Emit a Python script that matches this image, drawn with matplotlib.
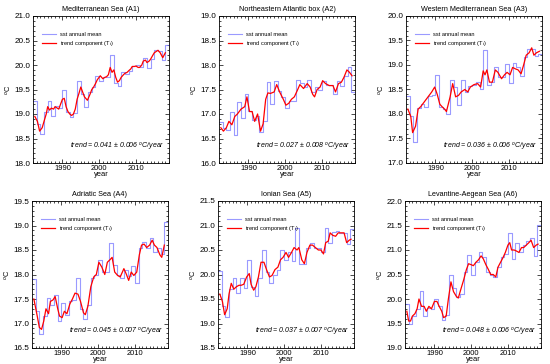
import matplotlib
matplotlib.use("Agg")
import matplotlib.pyplot as plt
from matplotlib.ticker import MultipleLocator

plt.rcParams['font.family'] = ['Liberation Sans', 'DejaVu Sans']
plt.rcParams['mathtext.fontset'] = 'custom'
plt.rcParams['mathtext.rm'] = 'Liberation Sans'
plt.rcParams['mathtext.it'] = 'Liberation Sans:italic'

# annual means, 1982..2018
years = list(range(1982, 2019))

sst_a1 = [19.27, 18.8, 18.6, 19.05, 19.27, 18.95, 19.17, 19.13, 19.5, 19.05,
          18.93, 19.02, 19.68, 19.4, 19.15, 19.45, 19.55, 19.77, 19.67, 19.75,
          19.75, 20.2, 19.63, 19.58, 19.85, 19.82, 19.88, 19.97, 20.0, 19.95,
          20.15, 19.93, 20.12, 20.3, 20.28, 20.1, 20.4]
sst_a2 = [16.83, 16.71, 16.68, 17.05, 16.57, 17.24, 16.91, 17.4, 17.07, 16.87,
          16.95, 16.64, 16.85, 17.65, 17.2, 17.67, 17.47, 17.35, 17.12, 17.27,
          17.27, 17.7, 17.63, 17.55, 17.7, 17.45, 17.55, 17.5, 17.68, 17.6,
          17.6, 17.4, 17.67, 17.57, 17.78, 17.95, 17.45]
sst_a3 = [18.37, 17.95, 17.42, 18.12, 18.2, 18.15, 18.37, 18.38, 18.8, 18.15,
          18.1, 18.0, 18.7, 18.55, 18.18, 18.7, 18.45, 18.57, 18.6, 18.65,
          18.5, 19.3, 18.6, 18.65, 18.95, 18.75, 18.75, 19.02, 18.63, 19.05,
          18.95, 18.78, 19.17, 19.32, 19.32, 19.18, 19.22]
sst_a4 = [17.9, 17.25, 16.78, 17.15, 17.52, 17.38, 17.58, 17.05, 17.42, 17.18,
          17.45, 17.48, 17.92, 17.3, 17.1, 17.38, 17.92, 18.0, 18.3, 18.05,
          18.05, 18.65, 18.2, 17.98, 17.93, 18.1, 17.97, 18.18, 17.82, 18.55,
          18.67, 18.55, 18.75, 18.45, 18.55, 18.42, 19.08]
sst_a5 = [20.07, 19.35, 19.13, 19.7, 19.93, 19.62, 19.92, 19.72, 20.3, 19.75,
          19.57, 19.93, 20.5, 20.05, 19.82, 20.0, 20.1, 20.5, 20.3, 20.45,
          20.27, 20.95, 20.22, 20.22, 20.55, 20.65, 20.55, 20.55, 20.45, 20.95,
          20.65, 20.87, 20.88, 20.85, 20.85, 20.62, 20.93]
sst_a6 = [19.9, 19.5, 19.65, 19.8, 20.17, 19.65, 19.82, 19.8, 20.0, 19.85,
          19.57, 19.67, 20.48, 20.22, 20.05, 20.1, 20.55, 20.9, 20.5, 20.75,
          20.95, 20.85, 20.55, 20.5, 20.45, 20.65, 20.85, 20.92, 21.35, 20.82,
          21.15, 20.95, 21.1, 21.18, 21.25, 20.88, 21.52]

# trend component
tt_a1 = [1982.5, 1983.2, 1983.8, 1984.5, 1985.0, 1985.6, 1986.0, 1986.5, 1987.0, 1987.6,
         1988.0, 1988.6, 1989.0, 1989.6, 1990.0, 1990.5, 1991.0, 1991.5, 1992.0, 1992.5,
         1993.0, 1993.5, 1994.0, 1994.5, 1995.0, 1995.5, 1996.0, 1996.8, 1997.5, 1998.0,
         1998.5, 1999.0, 1999.5, 2000.3, 2001.0, 2001.6, 2002.0, 2002.5, 2003.0, 2003.5,
         2004.0, 2004.5, 2005.0, 2005.5, 2006.0, 2006.6, 2007.0, 2007.6, 2008.0, 2008.6,
         2009.0, 2009.6, 2010.0, 2010.6, 2011.0, 2011.6, 2012.0, 2012.6, 2013.0, 2013.6,
         2014.0, 2014.6, 2015.0, 2015.6, 2016.0, 2016.6, 2017.3, 2018.0]
tv_a1 = [18.95, 18.85, 18.65, 18.72, 18.85, 19.0, 19.15, 19.08, 19.12, 19.1,
         19.15, 19.12, 19.1, 19.22, 19.3, 19.32, 19.15, 19.05, 19.0, 18.97,
         19.0, 19.1, 19.3, 19.42, 19.55, 19.45, 19.35, 19.28, 19.4, 19.5,
         19.55, 19.62, 19.7, 19.78, 19.72, 19.75, 19.76, 19.8, 19.95, 19.85,
         19.9, 19.75, 19.65, 19.68, 19.75, 19.8, 19.83, 19.85, 19.88, 19.92,
         19.97, 19.97, 19.98, 19.95, 19.95, 20.0, 20.08, 20.1, 20.05, 20.08,
         20.12, 20.2, 20.25, 20.28, 20.3, 20.25, 20.15, 20.25]

tt_a2 = [1982.5, 1983.2, 1984.0, 1984.7, 1985.5, 1986.3, 1987.0, 1988.0, 1989.0, 1989.6,
         1990.3, 1991.0, 1991.7, 1992.5, 1993.3, 1994.0, 1994.7, 1995.3, 1996.0, 1997.0,
         1997.7, 1998.5, 1999.5, 2000.2, 2001.0, 2001.7, 2002.5, 2003.3, 2004.0, 2005.0,
         2006.0, 2006.8, 2007.5, 2008.0, 2008.7, 2009.5, 2010.2, 2011.0, 2012.0, 2013.0,
         2013.7, 2014.5, 2015.3, 2016.0, 2016.8, 2017.5, 2018.2]
tv_a2 = [16.72, 16.65, 16.72, 16.85, 16.78, 16.95, 17.0, 17.1, 17.15, 17.35,
         17.05, 17.05, 16.85, 17.0, 16.65, 16.8, 17.3, 17.43, 17.42, 17.45,
         17.6, 17.45, 17.3, 17.18, 17.22, 17.3, 17.35, 17.48, 17.6, 17.52,
         17.62, 17.55, 17.4, 17.35, 17.5, 17.55, 17.68, 17.62, 17.58, 17.58,
         17.45, 17.62, 17.65, 17.75, 17.9, 17.85, 17.78]

tt_a3 = [1982.5, 1983.3, 1983.8, 1984.6, 1985.3, 1986.0, 1987.0, 1988.0, 1989.0, 1989.8,
         1990.5, 1991.2, 1991.8, 1992.5, 1993.0, 1994.0, 1994.7, 1995.5, 1996.3, 1997.0,
         1998.0, 1998.8, 1999.5, 2000.5, 2001.5, 2002.3, 2003.0, 2003.5, 2004.0, 2004.7,
         2005.5, 2006.3, 2007.0, 2008.0, 2008.8, 2009.5, 2010.3, 2011.0, 2011.8, 2012.5,
         2013.3, 2014.0, 2014.7, 2015.5, 2016.2, 2016.8, 2017.5, 2018.3]
tv_a3 = [18.1, 17.95, 17.62, 17.75, 18.1, 18.15, 18.25, 18.35, 18.45, 18.55,
         18.4, 18.2, 18.15, 18.1, 18.05, 18.35, 18.62, 18.35, 18.38, 18.45,
         18.5, 18.45, 18.55, 18.6, 18.62, 18.55, 18.88, 18.8, 18.9, 18.65,
         18.65, 18.9, 18.85, 18.72, 18.8, 18.85, 18.8, 18.95, 18.92, 18.9,
         18.82, 19.0, 19.2, 19.25, 19.35, 19.2, 19.25, 19.28]

tt_a4 = [1982.5, 1983.3, 1984.0, 1984.6, 1985.2, 1985.8, 1986.5, 1987.0, 1987.7, 1988.3,
         1989.0, 1989.5, 1990.2, 1990.8, 1991.5, 1992.3, 1993.0, 1993.7, 1994.5, 1995.2,
         1996.0, 1996.5, 1997.2, 1998.0, 1998.8, 1999.5, 2000.2, 2001.0, 2001.8, 2002.5,
         2003.2, 2003.8, 2004.5, 2005.3, 2006.0, 2007.0, 2007.7, 2008.3, 2009.0, 2009.7,
         2010.5, 2011.2, 2011.8, 2012.5, 2013.2, 2014.0, 2014.7, 2015.3, 2016.0, 2016.8,
         2017.3, 2018.0]
tv_a4 = [17.5, 17.2, 16.92, 16.88, 17.05, 17.3, 17.2, 17.45, 17.48, 17.55,
         17.3, 17.15, 17.12, 17.25, 17.2, 17.4, 17.5, 17.62, 17.6, 17.45,
         17.22, 17.18, 17.35, 17.75, 17.95, 18.0, 18.25, 18.15, 18.0, 18.25,
         18.3, 18.35, 18.05, 17.98, 17.95, 18.12, 18.0, 17.88, 18.05, 17.98,
         18.05, 18.4, 18.6, 18.62, 18.55, 18.6, 18.7, 18.6, 18.55, 18.4,
         18.35, 18.6]

tt_a5 = [1982.5, 1983.2, 1983.8, 1984.5, 1985.0, 1985.6, 1986.3, 1987.0, 1987.7, 1988.3,
         1989.0, 1989.8, 1990.5, 1991.0, 1991.7, 1992.3, 1993.0, 1993.7, 1994.5, 1995.2,
         1996.0, 1996.7, 1997.5, 1998.3, 1999.0, 1999.7, 2000.5, 2001.2, 2002.0, 2002.7,
         2003.5, 2004.0, 2004.8, 2005.5, 2006.2, 2007.0, 2007.7, 2008.5, 2009.3, 2010.0,
         2010.7, 2011.3, 2012.0, 2012.5, 2013.2, 2014.0, 2014.7, 2015.5, 2016.3, 2017.0,
         2017.7, 2018.2]
tv_a5 = [19.6, 19.45, 19.18, 19.3, 19.6, 19.82, 19.7, 19.75, 19.78, 19.78,
         19.8, 19.95, 20.02, 19.8, 19.68, 19.75, 19.95, 20.25, 20.25, 20.1,
         19.95, 19.98, 20.1, 20.15, 20.3, 20.35, 20.45, 20.35, 20.45, 20.55,
         20.5, 20.55, 20.3, 20.22, 20.45, 20.6, 20.6, 20.55, 20.5, 20.5,
         20.42, 20.65, 20.68, 20.85, 20.8, 20.78, 20.85, 20.85, 20.85, 20.65,
         20.7, 20.72]

tt_a6 = [1982.5, 1983.0, 1983.5, 1984.0, 1984.7, 1985.3, 1985.8, 1986.5, 1987.2, 1987.8,
         1988.5, 1989.2, 1990.0, 1990.7, 1991.3, 1992.0, 1992.5, 1993.2, 1993.8, 1994.5,
         1995.2, 1996.0, 1996.5, 1997.2, 1998.0, 1998.7, 1999.3, 2000.0, 2000.6, 2001.3,
         2002.0, 2002.7, 2003.3, 2004.0, 2004.7, 2005.3, 2006.0, 2006.7, 2007.3, 2008.0,
         2008.7, 2009.3, 2010.0, 2010.5, 2011.0, 2011.7, 2012.3, 2013.0, 2013.7, 2014.3,
         2015.0, 2015.7, 2016.3, 2017.0, 2017.7, 2018.2]
tv_a6 = [19.75, 19.55, 19.55, 19.65, 19.7, 19.8, 20.0, 19.85, 19.85, 19.75,
         19.85, 19.8, 19.95, 19.95, 19.85, 19.75, 19.62, 19.65, 20.0, 20.35,
         20.15, 20.05, 20.02, 20.2, 20.4, 20.6, 20.72, 20.7, 20.68, 20.75,
         20.8, 20.88, 20.82, 20.7, 20.6, 20.5, 20.5, 20.45, 20.65, 20.75,
         20.85, 20.95, 21.1, 21.15, 21.0, 21.0, 20.98, 20.95, 21.05, 21.05,
         21.1, 21.15, 21.2, 21.05, 21.1, 21.12]

titles = ["Mediterranean Sea (A1)", "Northeastern Atlantic box (A2)", "Western Mediterranean Sea (A3)",
          "Adriatic Sea (A4)", "Ionian Sea (A5)", "Levantine-Aegean Sea (A6)"]
ylims = [(18.0, 21.0), (16.0, 19.0), (17.0, 20.0), (16.5, 19.5), (18.5, 21.5), (19.0, 22.0)]
trend_txt = ["0.041 ± 0.006", "0.027 ± 0.008", "0.036 ± 0.006",
             "0.045 ± 0.007", "0.037 ± 0.007", "0.048 ± 0.006"]
sst_all = [sst_a1, sst_a2, sst_a3, sst_a4, sst_a5, sst_a6]
tt_all = [tt_a1, tt_a2, tt_a3, tt_a4, tt_a5, tt_a6]
tv_all = [tv_a1, tv_a2, tv_a3, tv_a4, tv_a5, tv_a6]

# axes boxes in pixels: left, top
boxes = [(33, 16), (219, 16), (406, 16), (32, 201), (218, 201), (405, 201)]
W, H = 550, 364
aw, ah = 136, 147

fig = plt.figure(figsize=(5.5, 3.64), dpi=100)

for i in range(6):
    left, top = boxes[i]
    ax = fig.add_axes([left / W, (H - top - ah) / H, aw / W, ah / H])
    sst = sst_all[i]
    ax.step(years + [years[-1] + 1], sst + [sst[-1]], where="post",
            color="#6f6fff", lw=0.8, alpha=0.7, label="sst annual mean")
    ax.plot(tt_all[i], tv_all[i], color="red", lw=0.9, label="trend component (T$_t$)")
    ax.set_xlim(1982, 2019)
    ax.set_ylim(*ylims[i])
    ax.xaxis.set_major_locator(MultipleLocator(10))
    ax.xaxis.set_minor_locator(MultipleLocator(1))
    ax.yaxis.set_major_locator(MultipleLocator(0.5))
    ax.yaxis.set_minor_locator(MultipleLocator(0.1))
    ax.tick_params(which="both", direction="in", top=True, right=True, pad=2)
    ax.tick_params(axis="x", labelsize=5.4, pad=1.5)
    ax.tick_params(axis="y", labelsize=5.9)
    ax.tick_params(which="major", length=3, width=0.5)
    ax.tick_params(which="minor", length=1.5, width=0.5)
    ax.yaxis.set_major_formatter(plt.FormatStrFormatter("%.1f"))
    for s in ax.spines.values():
        s.set_linewidth(0.6)
    ax.set_title(titles[i], fontsize=5.2, pad=3.5)
    ax.set_xlabel("year", fontsize=5.4, labelpad=-1)
    ax.set_ylabel("$^o$C", fontsize=5.4, labelpad=1)
    ax.legend(loc="upper left", bbox_to_anchor=(0.05, 0.91), frameon=False,
              fontsize=4.1, handlelength=2.5, handletextpad=0.6,
              borderaxespad=0, labelspacing=0.5)
    ax.text(0.97, 0.11, "trend = " + trend_txt[i] + " $^o$C/year", transform=ax.transAxes,
            ha="right", va="center", fontsize=5.0, style="italic")

fig.savefig("out.png", dpi=100)
